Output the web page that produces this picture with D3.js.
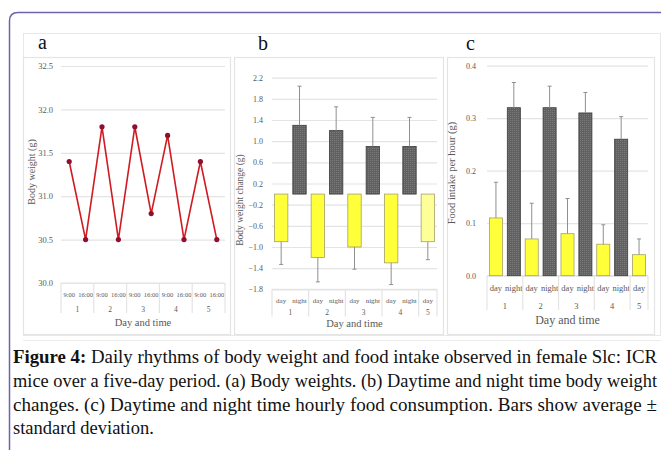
<!DOCTYPE html>
<html>
<head>
<meta charset="utf-8">
<script src="https://cdn.jsdelivr.net/npm/d3@7/dist/d3.min.js"></script>
<style>
  body { margin: 0; background: #fff; overflow: hidden; }
  svg { display: block; }
  svg text { font-family: "Liberation Serif", "Times New Roman", serif !important; }
</style>
</head>
<body>
<svg id="fig" width="661" height="450"></svg>
<script>
// ---- data ----
const days = ["1", "2", "3", "4", "5"];
const timeLabels = ["9:00", "16:00", "9:00", "16:00", "9:00", "16:00", "9:00", "16:00", "9:00", "16:00"];
const bodyWeight = [31.4, 30.5, 31.8, 30.5, 31.8, 30.8, 31.7, 30.5, 31.4, 30.5];
const weightTicks = [30.0, 30.5, 31.0, 31.5, 32.0, 32.5];

const periodLabels = ["day", "night", "day", "night", "day", "night", "day", "night", "day"];
const periodDay = [0, 0, 1, 1, 2, 2, 3, 3, 4];
const weightChange = [-0.9, 1.3, -1.2, 1.2, -1.0, 0.9, -1.3, 0.9, -0.9];
const weightChangeSD = [0.43, 0.74, 0.46, 0.45, 0.42, 0.55, 0.41, 0.55, 0.34];
const changeTicks = [-1.8, -1.4, -1.0, -0.6, -0.2, 0.2, 0.6, 1.0, 1.4, 1.8, 2.2];

const foodIntake = [0.11, 0.32, 0.07, 0.32, 0.08, 0.31, 0.06, 0.26, 0.04];
const foodIntakeSD = [0.068, 0.048, 0.068, 0.041, 0.067, 0.039, 0.037, 0.043, 0.030];
const intakeTicks = [0.0, 0.1, 0.2, 0.3, 0.4];

const captionLines = [
  "Daily rhythms of body weight and food intake observed in female Slc: ICR",
  "mice over a five-day period. (a) Body weights. (b) Daytime and night time body weight",
  "changes. (c) Daytime and night time hourly food consumption. Bars show average \u00b1",
  "standard deviation."
];

const svg = d3.select("#fig");
const gridColor = "#e4e4e4";
const textColor = "#595959";

// page frame (purple border with rounded corner)
svg.append("path")
  .attr("d", "M9.5,450 L9.5,21 Q9.5,12.5 18,12.5 L661,12.5")
  .attr("fill", "none")
  .attr("stroke", "#6b63ad")
  .attr("stroke-width", 1.5);

// figure image area and panel boxes
svg.append("rect").attr("x", 23.5).attr("y", 33.5).attr("width", 637).attr("height", 302)
  .attr("fill", "#fff").attr("stroke", "#e8e8e8");
[[23.5, 230.5], [234.5, 443.5], [447.5, 654.5]].forEach(([x0, x1]) => {
  svg.append("rect").attr("x", x0).attr("y", 57.5).attr("width", x1 - x0).attr("height", 277)
    .attr("fill", "#fff").attr("stroke", gridColor).attr("stroke-width", 1.2);
});

// dotted fill for the night bars
const pat = svg.append("defs").append("pattern")
  .attr("id", "dots").attr("width", 2).attr("height", 2)
  .attr("patternUnits", "userSpaceOnUse");
pat.append("rect").attr("width", 2).attr("height", 2).attr("fill", "#616161");
pat.append("rect").attr("width", 1).attr("height", 1).attr("fill", "#7a7a7a");

function panelLetter(txt, x, y) {
  svg.append("text").attr("x", x).attr("y", y)
    .attr("font-size", 20).attr("fill", "#111").text(txt);
}

function yAxis(y, ticks, x0, x1, pad, fontSize, fmt) {
  const g = svg.append("g")
    .attr("transform", `translate(${x0},0)`)
    .call(d3.axisLeft(y).tickValues(ticks).tickSize(-(x1 - x0)).tickPadding(pad).tickFormat(d3.format(fmt)));
  g.select(".domain").remove();
  g.selectAll(".tick line").attr("stroke", gridColor).attr("stroke-width", 1.2);
  g.selectAll(".tick text").attr("fill", textColor).attr("font-size", fontSize);
}

// category axis: labels row, day row, separators, title
function catAxis(x, labels, groupOf, o) {
  const step = x.step();
  const [r0, r1] = x.range();
  const g = svg.append("g")
    .attr("transform", `translate(0,${o.top})`)
    .call(d3.axisBottom(x).tickSize(0).tickPadding(o.labelDy).tickFormat(i => labels[i]));
  g.select(".domain").remove();
  g.selectAll(".tick text").attr("fill", textColor).attr("font-size", o.labelSize);

  svg.append("line").attr("x1", r0).attr("x2", r1).attr("y1", o.top).attr("y2", o.top)
    .attr("stroke", gridColor).attr("stroke-width", 1.2);

  // group boundaries
  const bounds = [];
  days.forEach((d, di) => {
    const idx = labels.map((_, i) => i).filter(i => groupOf(i) === di);
    const a = r0 + idx[0] * step;
    const b = r0 + (idx[idx.length - 1] + 1) * step;
    bounds.push(a, b);
    svg.append("text").attr("x", (a + b) / 2).attr("y", o.dayY)
      .attr("text-anchor", "middle").attr("font-size", o.daySize)
      .attr("fill", textColor).text(d);
  });
  Array.from(new Set(bounds)).forEach(bx => {
    svg.append("line").attr("x1", bx).attr("x2", bx).attr("y1", o.top).attr("y2", o.sepBottom)
      .attr("stroke", gridColor).attr("stroke-width", 1.2);
  });

  svg.append("text").attr("x", (r0 + r1) / 2).attr("y", o.titleY)
    .attr("text-anchor", "middle").attr("font-size", o.titleSize)
    .attr("fill", textColor).text("Day and time");
}

function yTitle(txt, x, y, size) {
  svg.append("text").attr("transform", `translate(${x},${y}) rotate(-90)`)
    .attr("text-anchor", "middle").attr("font-size", size)
    .attr("fill", textColor).text(txt);
}

// ---------- panel a: body weight line ----------
panelLetter("a", 38, 49);
const xa = d3.scaleBand().domain(d3.range(timeLabels.length)).range([61, 225]).padding(0);
const ya = d3.scaleLinear().domain([30.0, 32.5]).range([283, 66]);
yAxis(ya, weightTicks, 61, 225, 8, 8.5, ".1f");
catAxis(xa, timeLabels, i => Math.floor(i / 2),
  { top: 283, labelDy: 9, labelSize: 6.5, dayY: 312, daySize: 7.5, sepBottom: 313, titleY: 326, titleSize: 10.5 });
yTitle("Body weight (g)", 35, 172, 10);

svg.append("path")
  .datum(bodyWeight)
  .attr("fill", "none")
  .attr("stroke", "#d11a22")
  .attr("stroke-width", 1.6)
  .attr("d", d3.line().x((d, i) => xa(i) + xa.bandwidth() / 2).y(d => ya(d)));
svg.append("g").selectAll("circle")
  .data(bodyWeight)
  .join("circle")
  .attr("cx", (d, i) => xa(i) + xa.bandwidth() / 2)
  .attr("cy", d => ya(d))
  .attr("r", 2.6)
  .attr("fill", "#8e0f2e");

// ---------- bar panels ----------
function barPanel(values, sd, x, y, paleLast) {
  const zero = y(0);
  const bars = svg.append("g");
  bars.selectAll("rect")
    .data(values)
    .join("rect")
    .attr("x", (d, i) => x(i))
    .attr("y", d => Math.min(y(d), zero))
    .attr("width", x.bandwidth())
    .attr("height", d => Math.abs(y(d) - zero))
    .attr("fill", (d, i) => periodLabels[i] === "night" ? "url(#dots)" :
      (paleLast && i === values.length - 1 ? "#ffff9a" : "#ffff3a"))
    .attr("stroke", (d, i) => periodLabels[i] === "night" ? "#3c3c3c" : "#a5a06a")
    .attr("stroke-width", 0.8);

  const err = svg.append("g").attr("stroke", "#8f8f8f").attr("stroke-width", 1);
  values.forEach((v, i) => {
    const cx = x(i) + x.bandwidth() / 2;
    const end = v < 0 ? v - sd[i] : v + sd[i];
    err.append("line").attr("x1", cx).attr("x2", cx).attr("y1", y(v)).attr("y2", y(end));
    err.append("line").attr("x1", cx - 2).attr("x2", cx + 2).attr("y1", y(end)).attr("y2", y(end));
  });
}

// ---------- panel b: body weight change ----------
panelLetter("b", 258, 50);
const xb = d3.scaleBand().domain(d3.range(weightChange.length)).range([272, 437])
  .paddingInner(0.27).paddingOuter(0.135);
const yb = d3.scaleLinear().domain([-1.8, 2.2]).range([289.3, 77.7]);
yAxis(yb, changeTicks, 272, 437, 9, 8, ".1f");
catAxis(xb, periodLabels, i => periodDay[i],
  { top: 289.3, labelDy: 9, labelSize: 7, dayY: 315, daySize: 7.5, sepBottom: 316.5, titleY: 327, titleSize: 10.5 });
yTitle("Body weight change (g)", 243, 200, 9.5);
barPanel(weightChange, weightChangeSD, xb, yb, true);

// ---------- panel c: food intake ----------
panelLetter("c", 466, 50);
const xc = d3.scaleBand().domain(d3.range(foodIntake.length)).range([487, 648])
  .paddingInner(0.27).paddingOuter(0.135);
const yc = d3.scaleLinear().domain([0, 0.4]).range([275.7, 65.7]);
yAxis(yc, intakeTicks, 487, 648, 11, 8, ".1f");
catAxis(xc, periodLabels, i => periodDay[i],
  { top: 275.7, labelDy: 9, labelSize: 8.5, dayY: 309, daySize: 8.5, sepBottom: 310, titleY: 324, titleSize: 12 });
yTitle("Food intake per hour (g)", 455, 173, 10.5);
barPanel(foodIntake, foodIntakeSD, xc, yc, false);

// ---------- caption (justified lines, last line ragged) ----------
svg.append("line").attr("x1", 23).attr("x2", 661).attr("y1", 340.5).attr("y2", 340.5)
  .attr("stroke", "#ececec");
const cap = svg.append("g").attr("font-size", 18.5).attr("fill", "#111");
captionLines.forEach((line, i) => {
  const t = cap.append("text")
    .attr("x", 13).attr("y", 363 + i * 23.8);
  if (i < captionLines.length - 1) {
    t.attr("textLength", 644).attr("lengthAdjust", "spacingAndGlyphs");
  }
  if (i === 0) t.append("tspan").attr("font-weight", "bold").text("Figure 4: ");
  t.append("tspan").text(line);
});
</script>
</body>
</html>
